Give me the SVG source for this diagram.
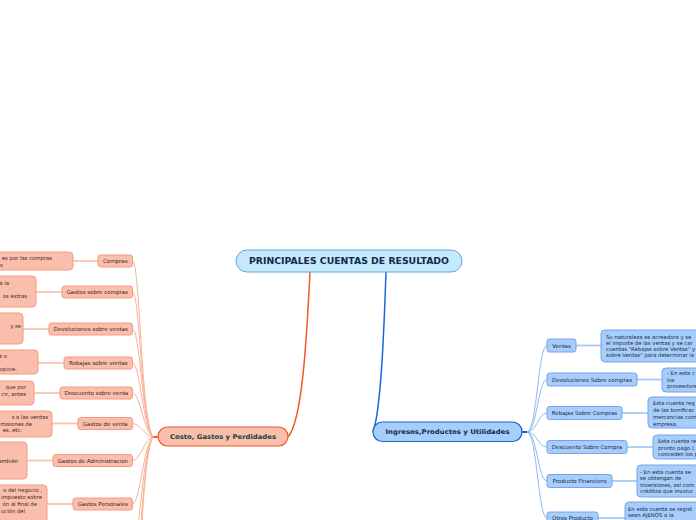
<svg xmlns="http://www.w3.org/2000/svg" width="696" height="520" viewBox="0 0 696 520">
<style>
text{font-family:"DejaVu Sans","Verdana",sans-serif;}
.lc{fill:#f9bfac;stroke:#f59a7c;stroke-width:1}
.rc{fill:#a8cdf9;stroke:#6fa6ef;stroke-width:1}
.lt{font-size:5.5px;fill:#3a2620;text-anchor:middle}
.rt{font-size:5.5px;fill:#14284a;text-anchor:middle}
.dl{font-size:5.3px;fill:#3a2620;text-anchor:end}
.dr{font-size:5.3px;fill:#14284a}
.lcon{fill:none;stroke:#f9b19a;stroke-width:1}
.lh{fill:none;stroke:#f9c3b1;stroke-width:1.8}
.rcon{fill:none;stroke:#8fbaf5;stroke-width:1}
.rh{fill:none;stroke:#a9cbf8;stroke-width:1.8}
</style>
<rect width="696" height="520" fill="#ffffff"/>
<g id="connectors">
<path d="M310,272 C307,330 303,420 288,437" fill="none" stroke="#f05a28" stroke-width="1.5"/>
<path d="M386,272 C384,330 381,410 373,432" fill="none" stroke="#1a63d8" stroke-width="1.5"/>
<line x1="152" y1="437" x2="158" y2="437" stroke="#f05a28" stroke-width="2"/>
<line x1="522" y1="432" x2="528" y2="432" stroke="#1a63d8" stroke-width="2"/>
<path class="lcon" d="M132.5,261 C140,261 141,420 153,437"/>
<path class="lcon" d="M132.5,292 C140,292 141,422 153,437"/>
<path class="lcon" d="M132.5,329 C140,329 142,424 153,437"/>
<path class="lcon" d="M132.5,363 C140,363 143,428 153,437"/>
<path class="lcon" d="M132.5,393 C140,393 144,432 153,437"/>
<path class="lcon" d="M132.5,423.5 C140,423.5 146,437 153,437"/>
<path class="lcon" d="M132.5,460.5 C140,460.5 146,437 153,437"/>
<path class="lcon" d="M132.5,504 C140,504 143,446 153,437"/>
<path class="lcon" d="M132.5,545 C140,545 142,450 153,437"/>
<path class="lcon" d="M132.5,585 C140,585 142,452 153,437"/>
<path class="lcon" d="M132.5,625 C140,625 141,454 153,437"/>
<line class="lh" x1="73" y1="261" x2="98" y2="261"/>
<line class="lh" x1="36" y1="292" x2="62" y2="292"/>
<line class="lh" x1="23" y1="329" x2="49" y2="329"/>
<line class="lh" x1="38" y1="363" x2="64" y2="363"/>
<line class="lh" x1="34" y1="393" x2="60" y2="393"/>
<line class="lh" x1="52" y1="423.5" x2="78" y2="423.5"/>
<line class="lh" x1="27" y1="460.5" x2="53" y2="460.5"/>
<line class="lh" x1="47" y1="504" x2="73" y2="504"/>
<path class="rcon" d="M527,432 C537,432 538,345.5 547,345.5"/>
<path class="rcon" d="M527,432 C537,432 538,379.5 547,379.5"/>
<path class="rcon" d="M527,432 C537,432 538,413 547,413"/>
<path class="rcon" d="M527,432 C537,432 538,447 547,447"/>
<path class="rcon" d="M527,432 C537,432 538,481 547,481"/>
<path class="rcon" d="M527,432 C537,432 538,518 547,518"/>
<line class="rh" x1="576" y1="345.5" x2="601" y2="345.5"/>
<line class="rh" x1="637" y1="379.5" x2="662" y2="379.5"/>
<line class="rh" x1="622" y1="413" x2="648" y2="413"/>
<line class="rh" x1="627" y1="447" x2="653" y2="447"/>
<line class="rh" x1="612" y1="481" x2="637" y2="481"/>
<line class="rh" x1="598" y1="518" x2="625" y2="518"/>
</g>
<g id="root">
<rect x="236" y="250" width="226" height="22" rx="11" fill="#c5e9fb" stroke="#5aa9e3" stroke-width="1"/>
<text x="349" y="264.2" font-size="8.6" font-weight="bold" fill="#0f2a4d" text-anchor="middle" textLength="200" lengthAdjust="spacingAndGlyphs">PRINCIPALES CUENTAS DE RESULTADO</text>
</g>
<g id="costo">
<rect x="158" y="427" width="130" height="19" rx="9.5" fill="#f9bfac" stroke="#f05a28" stroke-width="1.2"/>
<text x="223" y="439.3" font-size="6.5" font-weight="bold" fill="#1b3d38" text-anchor="middle" textLength="106" lengthAdjust="spacingAndGlyphs">Costo, Gastos y Perdidades</text>
</g>
<g id="ingresos">
<rect x="373" y="422" width="149" height="19.5" rx="9.5" fill="#a8cdf9" stroke="#1a63d8" stroke-width="1.2"/>
<text x="447.5" y="434.3" font-size="6.5" font-weight="bold" fill="#10284c" text-anchor="middle" textLength="124" lengthAdjust="spacingAndGlyphs">Ingresos,Productos y Utilidades</text>
</g>
<g id="compras"><rect class="lc" x="98" y="255" width="34.5" height="12" rx="2.5"/><text class="lt" x="115.3" y="263">Compras</text></g>
<g id="gastos-sobre-compras"><rect class="lc" x="62" y="286" width="70.5" height="12" rx="2.5"/><text class="lt" x="97.3" y="294">Gastos sobre compras</text></g>
<g id="devoluciones-sobre-ventas"><rect class="lc" x="49" y="323" width="83.5" height="12" rx="2.5"/><text class="lt" x="90.8" y="331">Devoluciones sobre ventas</text></g>
<g id="rebajas-sobre-ventas"><rect class="lc" x="64" y="357" width="68.5" height="12" rx="2.5"/><text class="lt" x="98.3" y="365">Rebajas sobre ventas</text></g>
<g id="descuento-sobre-venta"><rect class="lc" x="60" y="387" width="72.5" height="12" rx="2.5"/><text class="lt" x="96.3" y="395">Descuento sobre venta</text></g>
<g id="gastos-de-venta"><rect class="lc" x="78" y="417.5" width="54.5" height="12" rx="2.5"/><text class="lt" x="105.3" y="425.5">Gastos de venta</text></g>
<g id="gastos-de-administracion"><rect class="lc" x="53" y="454.5" width="79.5" height="12" rx="2.5"/><text class="lt" x="92.8" y="462.5">Gastos de Administracion</text></g>
<g id="gastos-personales"><rect class="lc" x="73" y="498" width="59.5" height="12" rx="2.5"/><text class="lt" x="102.8" y="506">Gastos Personales</text></g>
<g id="compras-desc"><rect class="lc" x="-100" y="252" width="173" height="18" rx="4"/><text class="dl" x="52" y="260">es por las compras</text><text class="dl" x="3" y="266.5">o</text></g>
<g id="gastos-sobre-compras-desc"><rect class="lc" x="-100" y="276" width="136" height="31" rx="4"/><text class="dl" x="9" y="284.5">a la</text><text class="dl" x="27" y="298">os extras</text></g>
<g id="devoluciones-sobre-ventas-desc"><rect class="lc" x="-100" y="313" width="123" height="31" rx="4"/><text class="dl" x="21" y="328">y se</text></g>
<g id="rebajas-sobre-ventas-desc"><rect class="lc" x="-100" y="350" width="138" height="24" rx="4"/><text class="dl" x="7" y="358">s o</text><text class="dl" x="17" y="370.5">opicie.</text></g>
<g id="descuento-sobre-venta-desc"><rect class="lc" x="-100" y="381" width="134" height="24" rx="4"/><text class="dl" x="26" y="389">que por</text><text class="dl" x="26" y="395.5">cir, antes</text></g>
<g id="gastos-de-venta-desc"><rect class="lc" x="-100" y="411" width="152" height="26" rx="4"/><text class="dl" x="48" y="419">s a las ventas</text><text class="dl" x="32" y="425.5">misiones de</text><text class="dl" x="22" y="432">es, etc.</text></g>
<g id="gastos-de-administracion-desc"><rect class="lc" x="-100" y="442" width="127" height="37" rx="4"/><text class="dl" x="18" y="463">ambién</text></g>
<g id="gastos-personales-desc"><rect class="lc" x="-100" y="485" width="147" height="45" rx="4"/><text class="dl" x="42" y="492">o del negocio ,</text><text class="dl" x="42" y="499">impuesto sobre</text><text class="dl" x="37" y="506">ón al final de</text><text class="dl" x="25" y="513">ución del</text></g>
<g id="ventas"><rect class="rc" x="547" y="339" width="29" height="13" rx="2.5"/><text class="rt" x="561.5" y="347.5">Ventas</text></g>
<g id="devoluciones-sobre-compras"><rect class="rc" x="547" y="373" width="90" height="13" rx="2.5"/><text class="rt" x="592" y="381.5">Devoluciones Sobre compras</text></g>
<g id="rebajas-sobre-compras"><rect class="rc" x="547" y="406.5" width="75" height="13" rx="2.5"/><text class="rt" x="584.5" y="415">Rebajas Sobre Compras</text></g>
<g id="descuento-sobre-compra"><rect class="rc" x="547" y="440.5" width="80" height="13" rx="2.5"/><text class="rt" x="587" y="449">Descuento Sobre Compra</text></g>
<g id="producto-financiero"><rect class="rc" x="547" y="474.5" width="65" height="13" rx="2.5"/><text class="rt" x="579.5" y="483">Producto Financiero</text></g>
<g id="otros-producto"><rect class="rc" x="547" y="512" width="51" height="13" rx="2.5"/><text class="rt" x="572.5" y="520">Otros Producto</text></g>
<g id="ventas-desc"><rect class="rc" x="601" y="330" width="200" height="32" rx="4"/><text class="dr" x="606" y="339">Su naturaleza es acreedora y se</text><text class="dr" x="606" y="345">el importe de las ventas y se car</text><text class="dr" x="606" y="351">cuentas "Rebajas sobre Ventas" y</text><text class="dr" x="606" y="357">sobre Ventas" para determinar la</text></g>
<g id="devoluciones-sobre-compras-desc"><rect class="rc" x="662" y="368" width="100" height="24" rx="4"/><text class="dr" x="667" y="375">- En esta c</text><text class="dr" x="667" y="382">los</text><text class="dr" x="667" y="388">proveedore</text></g>
<g id="rebajas-sobre-compras-desc"><rect class="rc" x="648" y="397" width="100" height="31" rx="4"/><text class="dr" x="653" y="405">Esta cuenta reg</text><text class="dr" x="653" y="412">de las bonificac</text><text class="dr" x="653" y="419">mercancias com</text><text class="dr" x="653" y="426">empresa.</text></g>
<g id="descuento-sobre-compra-desc"><rect class="rc" x="653" y="435" width="100" height="24" rx="4"/><text class="dr" x="658" y="443">Esta cuenta re</text><text class="dr" x="658" y="450">pronto pago (</text><text class="dr" x="658" y="456">conceden los p</text></g>
<g id="producto-financiero-desc"><rect class="rc" x="637" y="465" width="100" height="32" rx="4"/><text class="dr" x="640" y="474">- En esta cuenta se</text><text class="dr" x="640" y="480">se obtengan de</text><text class="dr" x="640" y="487">inversiones, así com</text><text class="dr" x="640" y="493">créditos que involuc</text></g>
<g id="otros-producto-desc"><rect class="rc" x="625" y="502" width="120" height="40" rx="4"/><text class="dr" x="628" y="511">En esta cuenta se regist</text><text class="dr" x="628" y="517">sean AJENOS a la</text></g>
</svg>
